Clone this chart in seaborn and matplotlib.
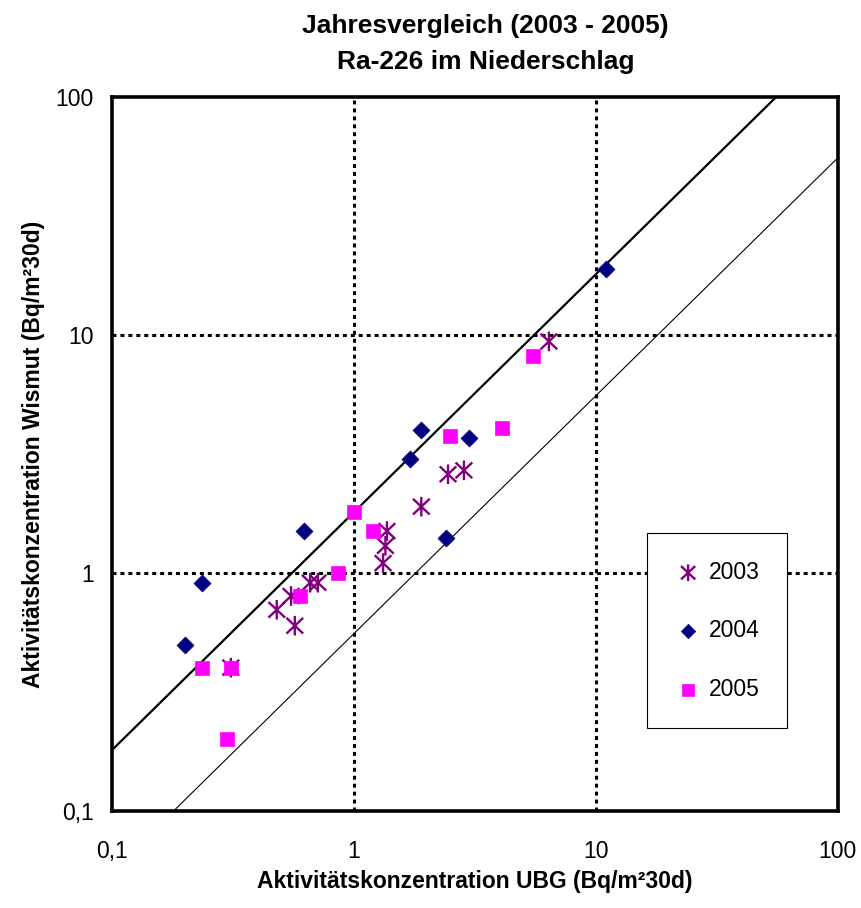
import numpy as np
import pandas as pd
import matplotlib
matplotlib.use("Agg")
import matplotlib.pyplot as plt
from matplotlib.path import Path
import seaborn as sns

# values (Bq/m²30d)
ubg_2003 = [0.31, 0.48, 0.55, 0.57, 0.66, 0.71, 1.32, 1.35, 1.37, 1.9, 2.45, 2.85, 6.4]
wis_2003 = [0.40, 0.70, 0.80, 0.60, 0.91, 0.91, 1.10, 1.30, 1.50, 1.9, 2.60, 2.70, 9.4]

ubg_2004 = [0.20, 0.235, 0.62, 1.7, 1.9, 3.0, 2.4, 11.0]
wis_2004 = [0.50, 0.91, 1.50, 3.0, 4.0, 3.7, 1.4, 19.0]

ubg_2005 = [0.235, 0.31, 0.30, 0.60, 0.86, 1.0, 1.2, 2.5, 4.1, 5.5]
wis_2005 = [0.40, 0.40, 0.20, 0.80, 1.00, 1.8, 1.5, 3.75, 4.05, 8.2]

years = ["2003", "2004", "2005"]
colors = {"2003": "#800080", "2004": "#000080", "2005": "#FF00FF"}

factor = 1.8  # upper / lower bound lines: y = 1.8x and y = x/1.8
tick_vals = [0.1, 1, 10, 100]
tick_labels = ["0,1", "1", "10", "100"]

df = pd.concat([
    pd.DataFrame({"UBG": ubg_2003, "Wismut": wis_2003, "Jahr": "2003"}),
    pd.DataFrame({"UBG": ubg_2004, "Wismut": wis_2004, "Jahr": "2004"}),
    pd.DataFrame({"UBG": ubg_2005, "Wismut": wis_2005, "Jahr": "2005"}),
])

# excel-like star: vertical bar plus an X
star = Path([(0, -1), (0, 1), (-0.85, -0.8), (0.85, 0.8), (-0.85, 0.8), (0.85, -0.8)],
            [Path.MOVETO, Path.LINETO] * 3)

sns.set_style("white")
plt.rcParams["font.family"] = ["Liberation Sans", "DejaVu Sans"]
plt.rcParams["text.color"] = "black"
plt.rcParams["axes.labelcolor"] = "black"

fig = plt.figure(figsize=(8.61, 9.08), dpi=100)
ax = fig.add_axes([0.130, 0.107, 0.843, 0.786])

ax.set_xscale("log")
ax.set_yscale("log")
ax.set_xlim(0.1, 100)
ax.set_ylim(0.1, 100)

# grid at decades
for v in [1, 10]:
    ax.axvline(v, color="black", lw=2.2, ls=(0, (1.3, 1.3)), zorder=1)
    ax.axhline(v, color="black", lw=2.2, ls=(0, (1.3, 1.3)), zorder=1)

xs = np.array([0.1, 100])
ax.plot(xs, xs * factor, color="black", lw=1.6, zorder=2)
ax.plot(xs, xs / factor, color="black", lw=0.8, zorder=2)

sns.scatterplot(data=df[df.Jahr == "2003"], x="UBG", y="Wismut", ax=ax,
                marker=star, s=200, facecolor="none", edgecolor=colors["2003"],
                linewidth=1.7, label="2003", zorder=3)
sns.scatterplot(data=df[df.Jahr == "2004"], x="UBG", y="Wismut", ax=ax,
                marker="D", s=75, color=colors["2004"], edgecolor=colors["2004"],
                linewidth=0.5, label="2004", zorder=3)
sns.scatterplot(data=df[df.Jahr == "2005"], x="UBG", y="Wismut", ax=ax,
                marker="s", s=110, color=colors["2005"], edgecolor=colors["2005"],
                linewidth=0.5, label="2005", zorder=3)

ax.set_xticks(tick_vals)
ax.set_xticklabels(tick_labels)
ax.set_yticks(tick_vals)
ax.set_yticklabels(tick_labels)
ax.minorticks_off()
ax.tick_params(axis="both", which="major", direction="inout", length=10, width=2.2,
               labelsize=16.5, color="black", labelcolor="black")
ax.tick_params(axis="x", pad=16)
ax.tick_params(axis="y", pad=8)

for sp in ax.spines.values():
    sp.set_linewidth(2.6)
    sp.set_color("black")

ax.set_xlabel("Aktivitätskonzentration UBG (Bq/m²30d)", fontsize=16.5,
              fontweight="bold", labelpad=5)
ax.set_ylabel("Aktivitätskonzentration Wismut (Bq/m²30d)", fontsize=16.5,
              fontweight="bold", labelpad=8)
ax.set_title("Jahresvergleich (2003 - 2005)\nRa-226 im Niederschlag", fontsize=19,
             fontweight="bold", pad=20, linespacing=1.65, x=0.515)

leg = ax.legend(loc="upper left", bbox_to_anchor=(0.737, 0.389), fontsize=16.5,
                frameon=True, fancybox=False, edgecolor="black", framealpha=1,
                labelspacing=1.55, borderpad=1.2, handletextpad=0.3,
                handlelength=1.2, borderaxespad=0, markerscale=0.85)
leg.get_frame().set_linewidth(0.8)

fig.savefig("out.png", dpi=100)
